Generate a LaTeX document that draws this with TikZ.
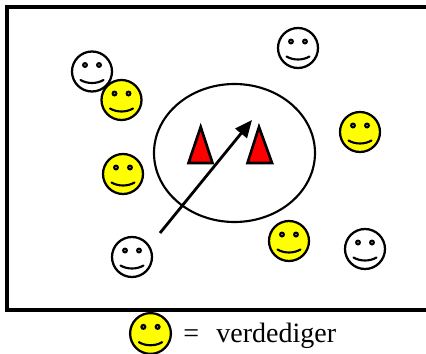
\documentclass[tikz,border=0pt]{standalone}
\usepackage{fontspec}
\setmainfont{Liberation Serif}
\usetikzlibrary{arrows.meta}
\definecolor{smileyyellow}{RGB}{255,255,0}
\tikzset{
  x=0.75pt,y=-0.75pt,
  pics/smiley/.style={code={
    \draw[line width=1.7pt,fill=#1] (0,0) circle[radius=20];
    \fill[black] (-7,-6.5) circle[radius=3];
    \fill[black] (7,-6.5) circle[radius=3];
    \fill[white!55!black] (-7,-6.5) circle[radius=0.9];
    \fill[white!55!black] (7,-6.5) circle[radius=0.9];
    \draw[line width=1.6pt,line cap=round] (-11.5,8.5) .. controls (-5,12.5) and (5,12.5) .. (11.5,8.5);
  }},
  cone/.style={draw=black,fill=red,line width=2.0pt,line join=miter},
  frame/.style={draw=black,line width=3pt},
  zone/.style={draw=black,line width=1.6pt},
  runarrow/.style={draw=black,line width=2.1pt,-{Triangle[length=13pt,width=11pt]}},
}
\begin{document}
\begin{tikzpicture}
\useasboundingbox (0,0) rectangle (426,354);
\draw[frame] (426,6.5) -- (7,6.5) -- (7,310) -- (426,310);
\draw[zone] (234.5,153) ellipse[x radius=80.5,y radius=69];
\draw[cone] (200.7,127) -- (212.5,163) -- (188.5,163) -- cycle;
\draw[cone] (259,127) -- (272,163) -- (247.5,163) -- cycle;
\pic at (92,71.5) {smiley=white};
\pic at (121.5,100) {smiley=smileyyellow};
\pic at (298,48) {smiley=white};
\pic at (360,132) {smiley=smileyyellow};
\pic at (123,174) {smiley=smileyyellow};
\pic at (132,257) {smiley=white};
\pic at (289,241) {smiley=smileyyellow};
\pic at (365,249) {smiley=white};
\pic[scale=1.02] at (150.5,333.5) {smiley=smileyyellow};
\coordinate (runstart) at (160,233);
\coordinate (runend) at (252,120);
\draw[runarrow] (runstart) -- (runend);
\node[font=\fontsize{21}{24}\selectfont,anchor=base west,inner sep=0pt] (legend) at (183,342) {=\hspace{0.62em}verdediger};
\end{tikzpicture}
\end{document}
